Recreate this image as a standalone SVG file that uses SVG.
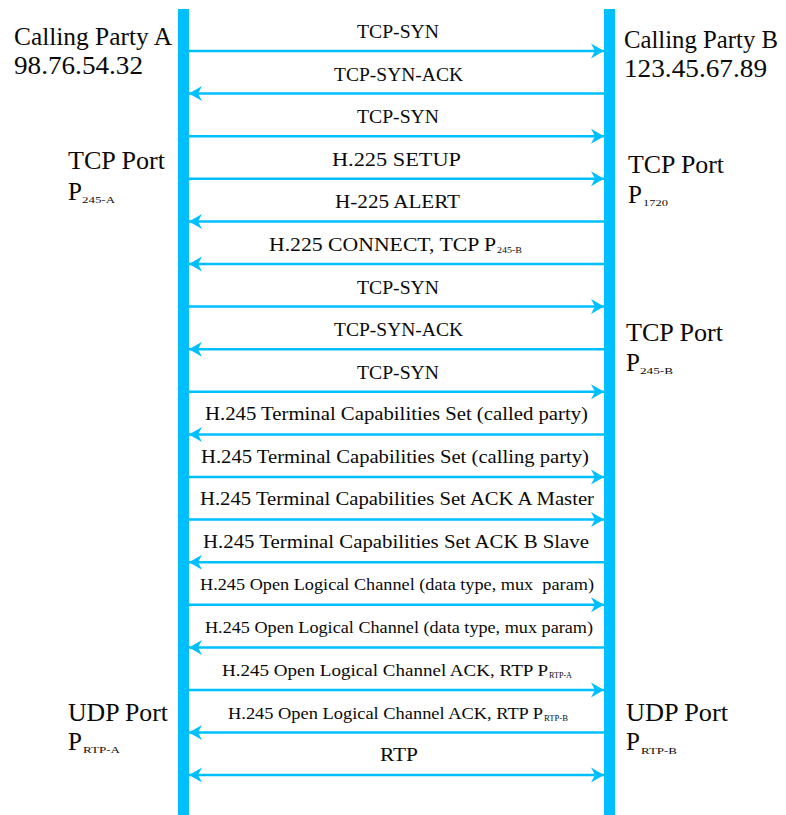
<svg xmlns="http://www.w3.org/2000/svg" width="786" height="815" viewBox="0 0 786 815">
<style>
.bar{fill:#00BFFF}
.msg{stroke:#00BFFF;stroke-width:2.5;fill:none}
.r{marker-end:url(#ah)}
.l{marker-end:url(#ah)}
.b{marker-start:url(#ah);marker-end:url(#ah)}
text{fill:#0a0a0a;font-family:"Liberation Serif","Times New Roman",serif}
.side{font-size:25px}
.lab{font-size:18px}
.sm{font-size:16.5px}
.sub{font-size:9px}
</style>
<defs>
<marker id="ah" markerUnits="userSpaceOnUse" markerWidth="16" markerHeight="18" viewBox="-14 -9 16 18" refX="0" refY="0" orient="auto-start-reverse">
<path d="M0,0 L-13,-7.5 L-9,0 L-13,7.5 Z" fill="#00BFFF"/>
</marker>
</defs>
<rect width="786" height="815" fill="#fff"/>

<g id="partyA">
<rect class="bar" x="178" y="9" width="11" height="806"/>
<text class="side" x="14" y="45" textLength="158" lengthAdjust="spacingAndGlyphs">Calling Party A</text>
<text class="side" x="14" y="74" textLength="129" lengthAdjust="spacingAndGlyphs">98.76.54.32</text>
<text class="side" x="68" y="169" textLength="97" lengthAdjust="spacingAndGlyphs">TCP Port</text>
<text class="side" x="68" y="200">P</text>
<text class="sub" x="82" y="203" textLength="33" lengthAdjust="spacingAndGlyphs">245-A</text>
<text class="side" x="68" y="721" textLength="100" lengthAdjust="spacingAndGlyphs">UDP Port</text>
<text class="side" x="68" y="750">P</text>
<text class="sub" x="83" y="753" textLength="37" lengthAdjust="spacingAndGlyphs">RTP-A</text>
</g>

<g id="partyB">
<rect class="bar" x="604" y="9" width="11" height="806"/>
<text class="side" x="624" y="48" textLength="154" lengthAdjust="spacingAndGlyphs">Calling Party B</text>
<text class="side" x="624" y="77" textLength="143" lengthAdjust="spacingAndGlyphs">123.45.67.89</text>
<text class="side" x="628" y="172.5" textLength="96" lengthAdjust="spacingAndGlyphs">TCP Port</text>
<text class="side" x="628" y="202.5">P</text>
<text class="sub" x="643" y="206" textLength="25" lengthAdjust="spacingAndGlyphs">1720</text>
<text class="side" x="626" y="341" textLength="97" lengthAdjust="spacingAndGlyphs">TCP Port</text>
<text class="side" x="626" y="370.5">P</text>
<text class="sub" x="640" y="374" textLength="33" lengthAdjust="spacingAndGlyphs">245-B</text>
<text class="side" x="626" y="721" textLength="102" lengthAdjust="spacingAndGlyphs">UDP Port</text>
<text class="side" x="626" y="750">P</text>
<text class="sub" x="641" y="754" textLength="36" lengthAdjust="spacingAndGlyphs">RTP-B</text>
</g>

<g id="connectors">
<line class="msg r" x1="189" y1="51" x2="604" y2="51"/>
<line class="msg l" x1="604" y1="93.6" x2="189" y2="93.6"/>
<line class="msg r" x1="189" y1="136.2" x2="604" y2="136.2"/>
<line class="msg r" x1="189" y1="178.8" x2="604" y2="178.8"/>
<line class="msg l" x1="604" y1="221.4" x2="189" y2="221.4"/>
<line class="msg l" x1="604" y1="264" x2="189" y2="264"/>
<line class="msg r" x1="189" y1="306.6" x2="604" y2="306.6"/>
<line class="msg l" x1="604" y1="349.2" x2="189" y2="349.2"/>
<line class="msg r" x1="189" y1="391.8" x2="604" y2="391.8"/>
<line class="msg l" x1="604" y1="434.4" x2="189" y2="434.4"/>
<line class="msg r" x1="189" y1="477" x2="604" y2="477"/>
<line class="msg r" x1="189" y1="519.6" x2="604" y2="519.6"/>
<line class="msg l" x1="604" y1="562.2" x2="189" y2="562.2"/>
<line class="msg r" x1="189" y1="604.8" x2="604" y2="604.8"/>
<line class="msg l" x1="604" y1="647.4" x2="189" y2="647.4"/>
<line class="msg r" x1="189" y1="690" x2="604" y2="690"/>
<line class="msg l" x1="604" y1="732.6" x2="189" y2="732.6"/>
<line class="msg b" x1="189" y1="775" x2="604" y2="775"/>

<text class="lab" x="357" y="38" textLength="82" lengthAdjust="spacingAndGlyphs">TCP-SYN</text>
<text class="lab" x="334" y="81" textLength="129" lengthAdjust="spacingAndGlyphs">TCP-SYN-ACK</text>
<text class="lab" x="357" y="123" textLength="82" lengthAdjust="spacingAndGlyphs">TCP-SYN</text>
<text class="lab" x="332" y="166" textLength="129" lengthAdjust="spacingAndGlyphs">H.225 SETUP</text>
<text class="lab" x="335" y="208" textLength="125" lengthAdjust="spacingAndGlyphs">H-225 ALERT</text>
<text class="lab" x="269" y="251" textLength="227" lengthAdjust="spacingAndGlyphs">H.225 CONNECT, TCP P</text>
<text class="sub" x="497" y="253" textLength="25" lengthAdjust="spacingAndGlyphs">245-B</text>
<text class="lab" x="357" y="294" textLength="82" lengthAdjust="spacingAndGlyphs">TCP-SYN</text>
<text class="lab" x="334" y="336" textLength="129" lengthAdjust="spacingAndGlyphs">TCP-SYN-ACK</text>
<text class="lab" x="357" y="379" textLength="82" lengthAdjust="spacingAndGlyphs">TCP-SYN</text>
<text class="lab" x="205" y="420" textLength="383" lengthAdjust="spacingAndGlyphs">H.245 Terminal Capabilities Set (called party)</text>
<text class="lab" x="201" y="463" textLength="388" lengthAdjust="spacingAndGlyphs">H.245 Terminal Capabilities Set (calling party)</text>
<text class="lab" x="200" y="505" textLength="394" lengthAdjust="spacingAndGlyphs">H.245 Terminal Capabilities Set ACK A Master</text>
<text class="lab" x="203" y="548" textLength="386" lengthAdjust="spacingAndGlyphs">H.245 Terminal Capabilities Set ACK B Slave</text>
<text class="sm" x="200" y="590" textLength="394" lengthAdjust="spacingAndGlyphs" style="white-space:pre">H.245 Open Logical Channel (data type, mux  param)</text>
<text class="sm" x="205" y="633" textLength="388" lengthAdjust="spacingAndGlyphs">H.245 Open Logical Channel (data type, mux param)</text>
<text class="sm" x="222" y="676" textLength="326" lengthAdjust="spacingAndGlyphs">H.245 Open Logical Channel ACK, RTP P</text>
<text class="sub" x="549" y="678" textLength="23" lengthAdjust="spacingAndGlyphs">RTP-A</text>
<text class="sm" x="228" y="719" textLength="315" lengthAdjust="spacingAndGlyphs">H.245 Open Logical Channel ACK, RTP P</text>
<text class="sub" x="544" y="721" textLength="24" lengthAdjust="spacingAndGlyphs">RTP-B</text>
<text class="lab" x="380" y="761" textLength="38" lengthAdjust="spacingAndGlyphs">RTP</text>
</g>
</svg>
